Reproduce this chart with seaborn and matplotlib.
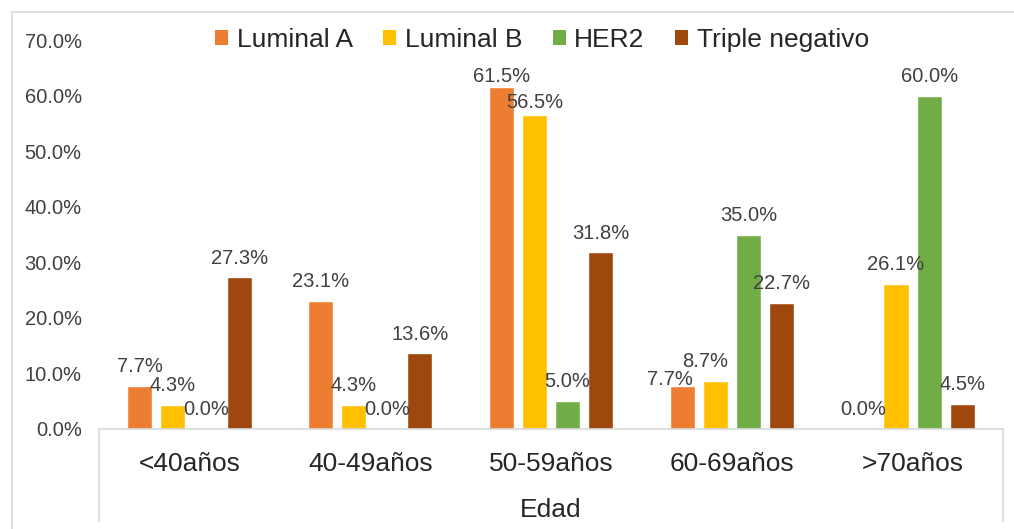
import matplotlib
matplotlib.use("Agg")
import matplotlib.pyplot as plt
from matplotlib.lines import Line2D
from matplotlib.patches import Patch
from matplotlib.ticker import FuncFormatter
import pandas as pd
import seaborn as sns

# Age groups and subtype percentages (fractions)
edades = ["<40años", "40-49años", "50-59años", "60-69años", ">70años"]
subtipos = ["Luminal A", "Luminal B", "HER2", "Triple negativo"]
luminal_a = [0.077, 0.231, 0.615, 0.077, 0.000]
luminal_b = [0.043, 0.043, 0.565, 0.087, 0.261]
her2 = [0.000, 0.000, 0.050, 0.350, 0.600]
triple_neg = [0.273, 0.136, 0.318, 0.227, 0.045]
y_ticks = [0.0, 0.1, 0.2, 0.3, 0.4, 0.5, 0.6, 0.7]

colores = ["#ED7D31", "#FFC000", "#70AD47", "#9E480E"]

series = {"Luminal A": luminal_a, "Luminal B": luminal_b,
          "HER2": her2, "Triple negativo": triple_neg}
df = pd.DataFrame(
    [(e, s, v) for s in subtipos for e, v in zip(edades, series[s])],
    columns=["Edad", "Subtipo", "Porcentaje"],
)

sns.set_theme(style="white")
plt.rcParams["font.family"] = ["Liberation Sans", "DejaVu Sans"]

W, H = 1014, 529
fig = plt.figure(figsize=(W / 100, H / 100), dpi=100)
ax = fig.add_axes([99 / W, 100 / H, 904 / W, 389 / H])

sns.barplot(data=df, x="Edad", y="Porcentaje", hue="Subtipo",
            hue_order=subtipos, order=edades, palette=colores,
            width=0.733, gap=0.24, saturation=1, errorbar=None,
            legend=False, ax=ax)

ax.set_xlim(-0.5, 4.5)
ax.set_ylim(0, 0.70)
ax.set_yticks(y_ticks)
ax.yaxis.set_major_formatter(FuncFormatter(lambda v, _: f"{v * 100:.1f}%"))

for side in ("left", "right", "top"):
    ax.spines[side].set_visible(False)
ax.spines["bottom"].set_color("#D9D9D9")
ax.spines["bottom"].set_linewidth(1.2)
ax.tick_params(axis="y", length=0, pad=12.5, labelsize=14.5, labelcolor="#404040")
ax.tick_params(axis="x", length=0, pad=16.5, labelsize=19, labelcolor="#262626")
ax.set_ylabel("")
ax.set_xlabel("Edad", fontsize=19, color="#262626")
ax.xaxis.set_label_coords(0.5, -0.178)

# Value labels above each bar; a few are nudged to avoid overlaps
ajustes = {
    ("50-59años", "Luminal A"): (0, -6),
    ("50-59años", "Luminal B"): (0, -5),
    ("60-69años", "Luminal A"): (-9, -9),
    ("60-69años", "Luminal B"): (-7, 0),
}
for cont, sub in zip(ax.containers, subtipos):
    for bar, edad, v in zip(cont, edades, series[sub]):
        dx, dy = ajustes.get((edad, sub), (0, 0))
        ax.annotate(f"{v * 100:.1f}%",
                    (bar.get_x() + bar.get_width() / 2, v),
                    xytext=(dx, 7 + dy), textcoords="offset points",
                    ha="center", va="bottom", fontsize=14.5, color="#404040")

# Legend across the top
handles = [Patch(facecolor=c, edgecolor="none") for c in colores]
fig.legend(handles, subtipos, loc="center", ncol=4, frameon=False,
           bbox_to_anchor=(542 / W, 1 - 40 / H), fontsize=19,
           handlelength=0.5, handleheight=0.48, handletextpad=0.32,
           columnspacing=1.15, labelcolor="#262626")

# Chart frame and category-axis box
gris = "#D9D9D9"
fig.add_artist(Line2D([12 / W, 12 / W], [0, 1 - 12 / H], transform=fig.transFigure,
                      color=gris, lw=1.2))
fig.add_artist(Line2D([12 / W, 1], [1 - 12 / H, 1 - 12 / H], transform=fig.transFigure,
                      color=gris, lw=1.2))
for xp in (99, 1003):
    fig.add_artist(Line2D([xp / W, xp / W], [100 / H, 7 / H], transform=fig.transFigure,
                          color=gris, lw=1.2))

fig.savefig("out.png", dpi=100, facecolor="white")
